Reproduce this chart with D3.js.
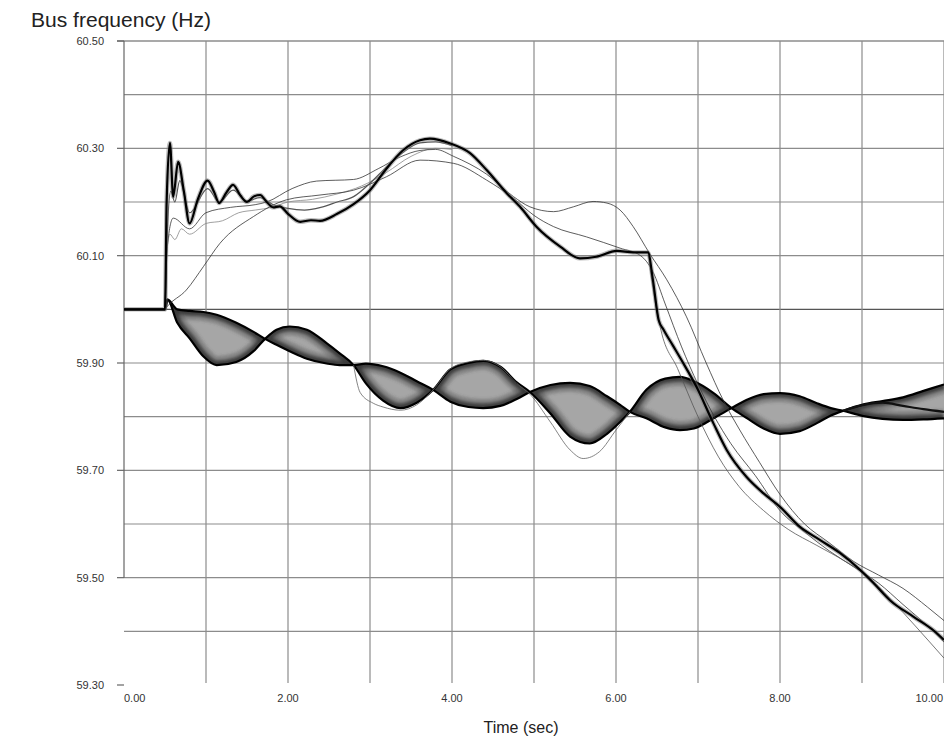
<!DOCTYPE html>
<html>
<head>
<meta charset="utf-8">
<script src="https://cdn.jsdelivr.net/npm/d3@7"></script>
<style>
  body { margin: 0; background: #fff; }
  svg { display: block; font-family: "Liberation Sans", Arial, sans-serif; }
</style>
</head>
<body>
<svg id="chart" width="944" height="738"></svg>
<script>
// ---- data (time in sec, frequency in Hz) ----
const yTicks = [60.5, 60.3, 60.1, 59.9, 59.7, 59.5, 59.3];
const yGrid = [59.4, 59.5, 59.6, 59.7, 59.8, 59.9, 60.0, 60.1, 60.2, 60.3, 60.4, 60.5];
const xTicks = [0, 2, 4, 6, 8, 10];
const xGrid = [1, 2, 3, 4, 5, 6, 7, 8, 9, 10];

// oscillating lower group: the two outer traces of the band
const bandTime = [0, 0.5, 0.53, 0.65, 0.80, 0.97, 1.13, 1.37, 1.58, 1.72, 1.86, 2.02, 2.23, 2.47, 2.63, 2.80, 2.95, 3.16, 3.37, 3.57, 3.77, 3.98, 4.20, 4.38, 4.59, 4.79, 4.95, 5.20, 5.44, 5.68, 5.89, 6.05, 6.17, 6.37, 6.60, 6.78, 6.95, 7.19, 7.41, 7.59, 7.80, 8.00, 8.24, 8.45, 8.62, 8.77, 9.02, 9.25, 9.50, 9.75, 10.0];
const bandA = [60.000, 60.000, 60.018, 60.000, 59.997, 59.995, 59.990, 59.975, 59.958, 59.945, 59.934, 59.922, 59.908, 59.899, 59.896, 59.896, 59.899, 59.894, 59.882, 59.866, 59.850, 59.828, 59.818, 59.816, 59.820, 59.833, 59.846, 59.859, 59.863, 59.857, 59.838, 59.822, 59.809, 59.797, 59.780, 59.775, 59.778, 59.797, 59.816, 59.831, 59.842, 59.844, 59.838, 59.825, 59.816, 59.811, 59.801, 59.796, 59.794, 59.795, 59.797];
const bandB = [60.000, 60.000, 60.018, 59.975, 59.946, 59.912, 59.896, 59.902, 59.922, 59.945, 59.962, 59.968, 59.962, 59.937, 59.918, 59.896, 59.862, 59.830, 59.816, 59.826, 59.850, 59.888, 59.900, 59.904, 59.893, 59.864, 59.846, 59.806, 59.763, 59.750, 59.768, 59.790, 59.809, 59.850, 59.871, 59.874, 59.866, 59.844, 59.816, 59.798, 59.778, 59.768, 59.773, 59.788, 59.802, 59.811, 59.823, 59.829, 59.836, 59.848, 59.860];
const bandTail = [[8.77, 59.811], [9.02, 59.822], [9.25, 59.826], [9.50, 59.820], [9.75, 59.814], [10.0, 59.809]];
const bandOut = [[2.80, 59.896], [2.88, 59.845], [3.04, 59.825], [3.16, 59.818], [3.37, 59.812], [3.57, 59.822], [3.77, 59.850], [3.98, 59.889], [4.20, 59.902], [4.38, 59.905], [4.59, 59.893], [4.79, 59.862], [4.95, 59.842], [5.20, 59.790], [5.44, 59.738], [5.60, 59.722], [5.80, 59.735], [6.00, 59.775], [6.17, 59.809]];

// rising upper group
const upperMain = [[0, 60.000], [0.50, 60.000], [0.52, 60.20], [0.56, 60.31], [0.60, 60.21], [0.66, 60.275], [0.73, 60.22], [0.80, 60.16], [0.90, 60.205], [1.02, 60.24], [1.10, 60.218], [1.16, 60.198], [1.25, 60.218], [1.33, 60.232], [1.42, 60.212], [1.50, 60.200], [1.58, 60.210], [1.66, 60.213], [1.74, 60.200], [1.82, 60.190], [1.90, 60.192], [2.00, 60.178], [2.15, 60.163], [2.28, 60.166], [2.39, 60.165], [2.60, 60.178], [2.80, 60.196], [3.00, 60.222], [3.20, 60.262], [3.40, 60.296], [3.61, 60.315], [3.73, 60.318], [3.98, 60.309], [4.22, 60.291], [4.42, 60.260], [4.67, 60.216], [4.83, 60.191], [5.03, 60.154], [5.32, 60.117], [5.56, 60.095], [5.76, 60.098], [6.01, 60.109], [6.21, 60.106], [6.39, 60.106], [6.45, 60.055], [6.52, 59.980], [6.58, 59.962], [6.70, 59.931], [6.80, 59.905], [6.98, 59.856], [7.19, 59.787], [7.35, 59.738], [7.59, 59.688], [7.80, 59.657], [8.00, 59.632], [8.24, 59.595], [8.49, 59.570], [8.73, 59.546], [8.98, 59.514], [9.14, 59.490], [9.34, 59.458], [9.63, 59.427], [9.87, 59.402], [10.0, 59.384]];
const upperMid = [[0.50, 60.000], [0.53, 60.15], [0.57, 60.22], [0.62, 60.20], [0.68, 60.24], [0.80, 60.18], [1.02, 60.225], [1.16, 60.20], [1.33, 60.222], [1.50, 60.202], [1.66, 60.208], [1.82, 60.195], [2.00, 60.188], [2.20, 60.185], [2.40, 60.19], [2.60, 60.20], [2.80, 60.21], [3.00, 60.235], [3.20, 60.265], [3.40, 60.292], [3.61, 60.31], [3.80, 60.312], [4.00, 60.305]];
const upperLow = [[0.50, 60.000], [0.52, 60.10], [0.56, 60.14], [0.62, 60.13], [0.70, 60.15], [0.80, 60.14], [1.00, 60.16], [1.20, 60.165], [1.40, 60.18], [1.60, 60.185], [1.80, 60.19], [2.00, 60.20], [2.30, 60.205], [2.60, 60.215], [2.90, 60.23], [3.20, 60.255], [3.50, 60.285], [3.80, 60.30], [4.00, 60.298]];
const upperSlow = [[0.50, 60.000], [0.52, 60.004], [0.76, 60.036], [0.97, 60.080], [1.17, 60.123], [1.58, 60.173], [1.98, 60.204], [2.39, 60.213], [2.80, 60.222], [3.20, 60.247], [3.61, 60.278], [4.02, 60.272], [4.42, 60.241], [4.75, 60.207], [5.00, 60.175], [5.24, 60.154], [5.64, 60.135], [6.05, 60.114], [6.30, 60.100], [6.45, 60.070], [6.60, 60.010], [6.80, 59.930], [7.00, 59.860], [7.20, 59.800], [7.40, 59.750], [7.70, 59.690], [8.00, 59.625], [8.30, 59.585], [8.60, 59.550], [8.90, 59.520], [9.20, 59.490], [9.50, 59.450], [9.80, 59.410], [10.0, 59.380]];
const upperHigh = [[0.50, 60.000], [0.53, 60.12], [0.60, 60.17], [0.80, 60.15], [1.00, 60.18], [1.30, 60.19], [1.60, 60.195], [1.74, 60.20], [2.05, 60.225], [2.35, 60.239], [2.80, 60.242], [3.10, 60.262], [3.37, 60.284], [3.61, 60.296], [3.80, 60.298], [4.02, 60.285], [4.42, 60.252], [4.75, 60.210], [4.95, 60.191], [5.24, 60.182], [5.48, 60.191], [5.72, 60.201], [5.89, 60.198], [6.05, 60.185], [6.21, 60.154], [6.41, 60.104], [6.62, 60.055], [6.86, 59.986], [7.10, 59.900], [7.31, 59.830], [7.51, 59.775], [7.75, 59.715], [8.00, 59.655], [8.30, 59.600], [8.60, 59.565], [8.90, 59.530], [9.20, 59.505], [9.50, 59.480], [9.80, 59.445], [10.0, 59.420]];
const upperFast = [[6.39, 60.106], [6.45, 60.040], [6.55, 59.960], [6.75, 59.890], [7.00, 59.800], [7.25, 59.725], [7.50, 59.670], [7.80, 59.625], [8.10, 59.590], [8.45, 59.560], [8.80, 59.530], [9.05, 59.505], [9.35, 59.460], [9.65, 59.410], [10.0, 59.350]];

// ---- layout ----
const W = 944, H = 738;
const margin = { top: 41, right: 0, bottom: 53, left: 124 };
const svg = d3.select('#chart');

const x = d3.scaleLinear().domain([0, 10]).range([margin.left, W - margin.right]);
const y = d3.scaleLinear().domain([59.3, 60.5]).range([H - margin.bottom, margin.top]);

const defs = svg.append('defs');
defs.append('clipPath').attr('id', 'plot')
    .append('rect')
    .attr('x', x(0)).attr('y', y(60.5))
    .attr('width', x(10) - x(0)).attr('height', y(59.3) - y(60.5));
defs.append('filter').attr('id', 'soft')
    .attr('x', '-5%').attr('y', '-50%').attr('width', '110%').attr('height', '200%')
    .append('feGaussianBlur').attr('stdDeviation', 1.8);

// grid
const grid = svg.append('g').attr('stroke', '#8c8c8c').attr('stroke-width', 1.2);
grid.selectAll('line.h')
    .data(yGrid)
    .join('line')
    .attr('x1', d => d === 60.5 ? x(0) - 7 : x(0))
    .attr('x2', x(10))
    .attr('y1', d => y(d)).attr('y2', d => y(d))
    .attr('stroke', d => (d === 60.0 || d === 60.5) ? '#555' : null);

grid.selectAll('line.v')
    .data(xGrid)
    .join('line')
    .attr('x1', d => x(d)).attr('x2', d => x(d))
    .attr('y1', y(60.5)).attr('y2', y(59.3) - 2);

// left axis line (stops at 59.50) and ticks
grid.append('line')
    .attr('x1', x(0)).attr('x2', x(0))
    .attr('y1', y(60.5)).attr('y2', y(59.5))
    .attr('stroke', '#666');
grid.selectAll('line.t')
    .data(yTicks)
    .join('line')
    .attr('x1', x(0) - 7).attr('x2', x(0))
    .attr('y1', d => y(d)).attr('y2', d => y(d))
    .attr('stroke', '#666');

// tick labels
svg.append('g')
    .selectAll('text')
    .data(yTicks)
    .join('text')
    .attr('x', x(0) - 20)
    .attr('y', d => y(d))
    .attr('dy', '0.35em')
    .attr('text-anchor', 'end')
    .attr('font-size', 11)
    .attr('fill', '#333')
    .text(d => d3.format('.2f')(d));

svg.append('g')
    .selectAll('text')
    .data(xTicks)
    .join('text')
    .attr('x', d => d === 10 ? x(d) - 1 : x(d))
    .attr('y', y(59.3) + 17)
    .attr('text-anchor', d => d === 0 ? 'start' : d === 10 ? 'end' : 'middle')
    .attr('font-size', 11)
    .attr('fill', '#333')
    .text(d => d3.format('.2f')(d));

// titles
svg.append('text')
    .attr('x', 31).attr('y', 27)
    .attr('font-size', 20)
    .attr('fill', '#222')
    .attr('textLength', 180)
    .attr('lengthAdjust', 'spacingAndGlyphs')
    .text('Bus frequency (Hz)');

svg.append('text')
    .attr('x', 521).attr('y', 733)
    .attr('text-anchor', 'middle')
    .attr('font-size', 16)
    .attr('fill', '#222')
    .text('Time (sec)');

// ---- curves ----
const plot = svg.append('g').attr('clip-path', 'url(#plot)');
const line = d3.line().x(d => x(d[0])).y(d => y(d[1])).curve(d3.curveMonotoneX);

const band = bandTime.map((t, i) => ({ t, a: bandA[i], b: bandB[i] }));
const area = d3.area()
    .x(d => x(d.t))
    .y0(d => y(d.a))
    .y1(d => y(d.b))
    .curve(d3.curveMonotoneX);

defs.append('clipPath').attr('id', 'bandClip')
    .append('path').attr('d', area(band));

plot.append('path')
    .attr('d', area(band))
    .attr('fill', '#a6a6a6');

const bandEdges = [bandTime.map((t, i) => [t, bandA[i]]), bandTime.map((t, i) => [t, bandB[i]])];

// dark, soft rim just inside the band, where most traces crowd together
const rim = plot.append('g').attr('clip-path', 'url(#bandClip)')
    .append('g').attr('filter', 'url(#soft)');
rim.selectAll('path.rim')
    .data(bandEdges)
    .join('path')
    .attr('d', line)
    .attr('fill', 'none')
    .attr('stroke', '#1e1e1e')
    .attr('stroke-opacity', 0.8)
    .attr('stroke-width', 9);
rim.selectAll('path.rim2')
    .data(bandEdges)
    .join('path')
    .attr('d', line)
    .attr('fill', 'none')
    .attr('stroke', '#444')
    .attr('stroke-opacity', 0.35)
    .attr('stroke-width', 18);

plot.selectAll('path.edge')
    .data(bandEdges)
    .join('path')
    .attr('d', line)
    .attr('fill', 'none')
    .attr('stroke', '#000')
    .attr('stroke-width', 2.2);

plot.append('path').datum(bandTail).attr('d', line)
    .attr('fill', 'none').attr('stroke', '#111').attr('stroke-width', 2.2);
plot.append('path').datum(bandOut).attr('d', line)
    .attr('fill', 'none').attr('stroke', '#666').attr('stroke-width', 0.8);

const thin = [
    { data: upperLow, color: '#888', width: 0.8 },
    { data: upperSlow, color: '#333', width: 0.8 },
    { data: upperHigh, color: '#333', width: 0.8 },
    { data: upperFast, color: '#555', width: 0.8 },
    { data: upperMid, color: '#555', width: 1.2 },
];
plot.selectAll('path.thin')
    .data(thin)
    .join('path')
    .attr('d', d => line(d.data))
    .attr('fill', 'none')
    .attr('stroke', d => d.color)
    .attr('stroke-width', d => d.width);

plot.append('path').datum(upperMain).attr('d', line)
    .attr('fill', 'none').attr('stroke', '#777').attr('stroke-opacity', 0.5).attr('stroke-width', 4.5);
plot.append('path').datum(upperMain).attr('d', line)
    .attr('fill', 'none').attr('stroke', '#000').attr('stroke-width', 2.2);
</script>
</body>
</html>
